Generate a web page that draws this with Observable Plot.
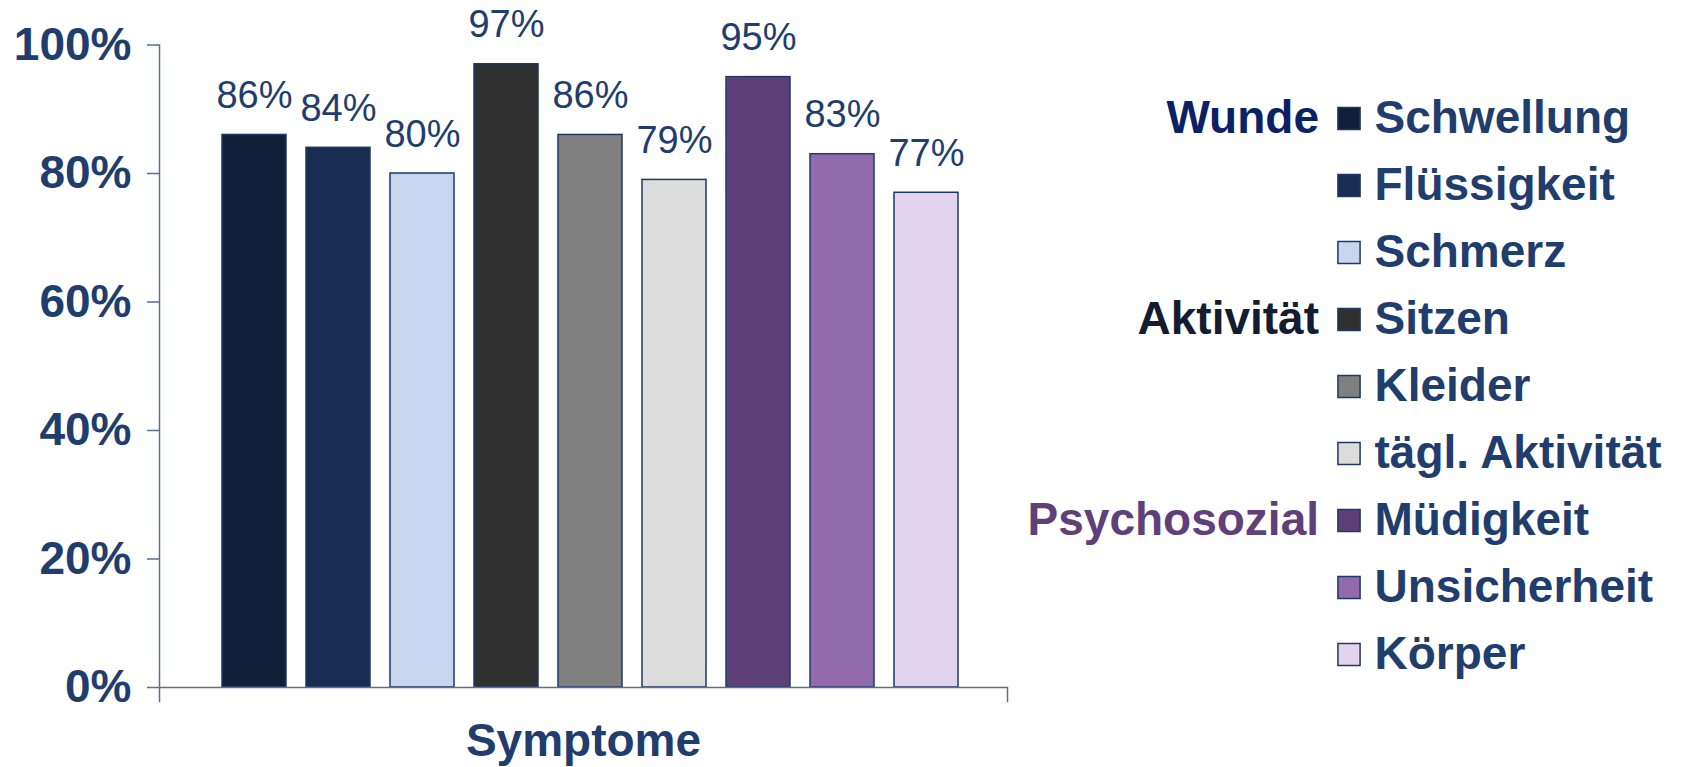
<!DOCTYPE html>
<html><head><meta charset="utf-8">
<script src="https://cdn.jsdelivr.net/npm/d3@7"></script>
<script src="https://cdn.jsdelivr.net/npm/@observablehq/plot@0.6"></script>
<style>
html,body{margin:0;padding:0;background:#fff;}
#wrap{display:flex;width:1683px;height:767px;overflow:hidden;}
</style></head><body><div id="wrap"></div>
<script>
const symptoms = ["Schwellung","Flüssigkeit","Schmerz","Sitzen","Kleider","tägl. Aktivität","Müdigkeit","Unsicherheit","Körper"];
const values = [0.86,0.84,0.80,0.97,0.86,0.79,0.95,0.83,0.77];
const colors = ["#111f38","#172d52","#c6d6ee","#303030","#808080","#dcdcdc","#5e4079","#926bac","#e3d3ee"];
const groups = ["Wunde","Aktivität","Psychosozial"];
const groupStart = ["Schwellung","Sitzen","Müdigkeit"];
const groupColors = ["#0a2264","#131c30","#60407a"];
const yTicks = [0,0.2,0.4,0.6,0.8,1];
const axisTitle = "Symptome";

const data = symptoms.map((s,i)=>({symptom:s, value:values[i]}));
const font = "'Liberation Sans', Arial, sans-serif";
const textColor = "#1f3d6d";
const axisColor = "#5a6e98";
const pct = d3.format(".0%");

const chart = Plot.plot({
  width: 1020, height: 767,
  marginLeft: 159, marginRight: 13, marginTop: 44.5, marginBottom: 80,
  style: {fontFamily: font, color: textColor, background: "white", overflow: "visible"},
  x: {domain: symptoms, range: [220, 960], paddingInner: 0.24, paddingOuter: 0, axis: null},
  y: {domain: [0,1], label: null},
  color: {domain: symptoms, range: colors},
  marks: [
    Plot.barY(data, {x: "symptom", y: "value", fill: "symptom", stroke: "#1f3864", strokeWidth: 1.5}),
    Plot.ruleY([0], {stroke: axisColor, strokeWidth: 1.5}),
    Plot.frame({anchor: "left", stroke: axisColor, strokeWidth: 1.5, insetBottom: -14}),
    Plot.frame({anchor: "right", stroke: axisColor, strokeWidth: 1.5, insetTop: 642.5, insetBottom: -14}),
    Plot.axisY({ticks: yTicks, tickFormat: pct, tickSize: 12, tickPadding: 16, fontSize: 46, fontWeight: "bold",
      stroke: axisColor, fill: textColor, strokeWidth: 1.5, label: null}),
    Plot.text(data, {x: "symptom", y: "value", text: d => pct(d.value), lineAnchor: "bottom", dy: -27,
      fontSize: 38, fontWeight: "normal", fill: textColor}),
    Plot.text([axisTitle], {text: d => d, frameAnchor: "bottom", dy: 68, fontSize: 46, fontWeight: "bold", fill: textColor})
  ]
});

const legend = Plot.plot({
  width: 663, height: 767,
  marginLeft: 328.5, marginRight: 0, marginTop: 114.8, marginBottom: 110.1,
  style: {fontFamily: font, color: textColor, background: "white", overflow: "visible"},
  x: {axis: null},
  y: {type: "point", domain: symptoms, padding: 0, axis: null},
  color: {domain: symptoms, range: colors},
  marks: [
    Plot.dot(symptoms, {y: d => d, frameAnchor: "left", symbol: "square", r: 12.5, fill: d => d, stroke: "#1f3864", strokeWidth: 1.5}),
    Plot.text(symptoms, {y: d => d, text: d => d, frameAnchor: "left", dx: 25.5, textAnchor: "start",
      fontSize: 46, fontWeight: "bold", fill: textColor}),
    ...groups.map((g,i) => Plot.text([g], {y: () => groupStart[i], text: d => d, frameAnchor: "left", dx: -30,
      textAnchor: "end", fontSize: 46, fontWeight: "bold", fill: groupColors[i]}))
  ]
});

document.getElementById("wrap").append(chart, legend);
</script></body></html>
